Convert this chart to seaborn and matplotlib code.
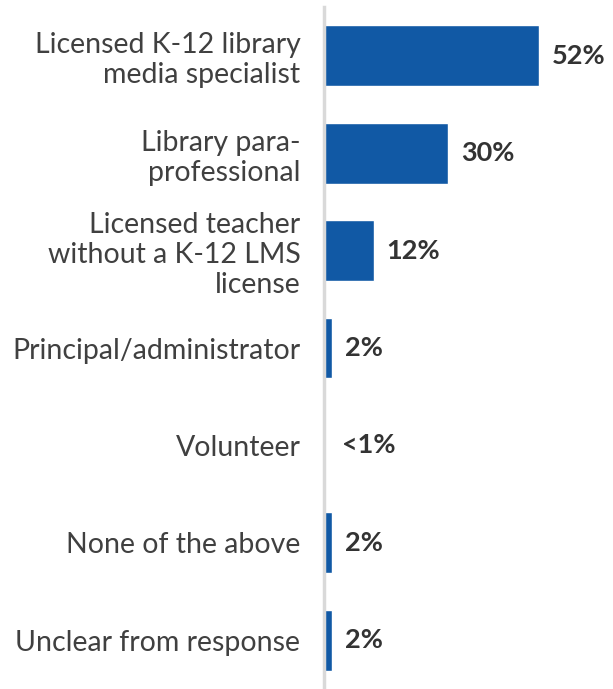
import matplotlib
matplotlib.use("Agg")
import matplotlib.pyplot as plt
import seaborn as sns
import pandas as pd

categories = [
    "Licensed K-12 library\nmedia specialist",
    "Library para-\nprofessional",
    "Licensed teacher\nwithout a K-12 LMS\nlicense",
    "Principal/administrator",
    "Volunteer",
    "None of the above",
    "Unclear from response",
]
values = [52, 30, 12, 2, 0, 2, 2]
value_labels = ["52%", "30%", "12%", "2%", "<1%", "2%", "2%"]

sns.set_theme(style="white")
plt.rcParams["font.family"] = ["Lato", "DejaVu Sans"]

df = pd.DataFrame({"category": categories, "value": values})

fig = plt.figure(figsize=(6.13, 6.89), dpi=100)
ax = fig.add_axes([324 / 613, 0, 289 / 613, 682 / 689])

sns.barplot(data=df, x="value", y="category", color="#1159a5",
            width=0.625, saturation=1, ax=ax, orient="h")

ax.set_xlim(0, 70)
ax.set_ylim(6.5, -0.5)
ax.set_xlabel("")
ax.set_ylabel("")
ax.set_xticks([])
ax.tick_params(axis="y", length=0, pad=17, labelsize=20.5, labelcolor="#404040")
for lbl in ax.get_yticklabels():
    lbl.set_horizontalalignment("right")
    lbl.set_linespacing(1.2)

for s in ["top", "right", "bottom"]:
    ax.spines[s].set_visible(False)
ax.spines["left"].set_color("#d9d9d9")
ax.spines["left"].set_linewidth(2.5)

for i, (v, t) in enumerate(zip(values, value_labels)):
    x = v + (3.2 if v > 0 else 4.3)
    ax.text(x, i, t, va="center", ha="left", fontsize=19.5, fontweight="bold",
            color="#333333")

fig.savefig("out.png", dpi=100, facecolor="white")
